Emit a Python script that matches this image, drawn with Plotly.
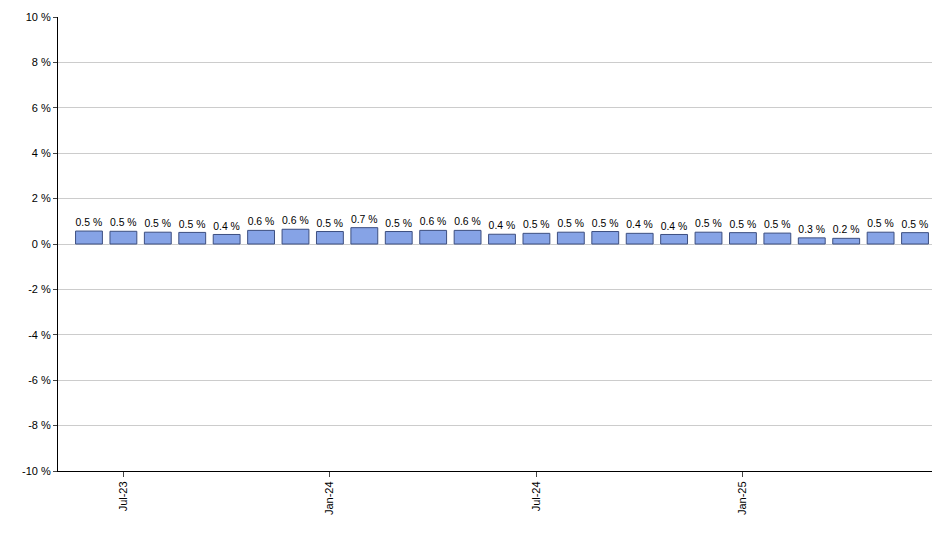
import plotly.graph_objects as go

months = ["Jun-23","Jul-23","Aug-23","Sep-23","Oct-23","Nov-23","Dec-23","Jan-24","Feb-24","Mar-24","Apr-24","May-24","Jun-24","Jul-24","Aug-24","Sep-24","Oct-24","Nov-24","Dec-24","Jan-25","Feb-25","Mar-25","Apr-25","May-25","Jun-25"]
values = [0.57,0.56,0.52,0.51,0.42,0.6,0.65,0.55,0.72,0.55,0.6,0.6,0.43,0.47,0.52,0.55,0.47,0.42,0.52,0.5,0.48,0.27,0.25,0.52,0.5]
labels = ["0.5 %","0.5 %","0.5 %","0.5 %","0.4 %","0.6 %","0.6 %","0.5 %","0.7 %","0.5 %","0.6 %","0.6 %","0.4 %","0.5 %","0.5 %","0.5 %","0.4 %","0.4 %","0.5 %","0.5 %","0.5 %","0.3 %","0.2 %","0.5 %","0.5 %"]
tick_months = ["Jul-23","Jan-24","Jul-24","Jan-25"]
yticks = list(range(-10, 11, 2))

fig = go.Figure(go.Bar(
    x=months, y=values, text=labels, textposition="outside",
    textfont=dict(size=11, color="black", family="Liberation Sans"),
    marker=dict(color="#86a3e6", line=dict(color="#3d4f80", width=1)),
    width=0.78, cliponaxis=False,
))
fig.update_layout(
    width=940, height=550, margin=dict(l=50, r=2, t=9, b=87, autoexpand=False),
    plot_bgcolor="white", paper_bgcolor="white", showlegend=False,
    font=dict(family="Liberation Sans", size=11, color="black"),
)
fig.update_xaxes(type="category", tickvals=tick_months, ticktext=tick_months,
                 tickangle=-90, ticks="outside", ticklen=5, showline=True,
                 linecolor="black", showgrid=False, range=[-0.9, 24.9], automargin=False)
fig.update_yaxes(range=[-10, 10], tickvals=yticks, ticktext=[f"{v} %" for v in yticks],
                 showgrid=True, gridcolor="#cccccc", showline=True, linecolor="black",
                 ticks="outside", ticklen=4, zeroline=False, automargin=False)
fig.write_html("out.html")
